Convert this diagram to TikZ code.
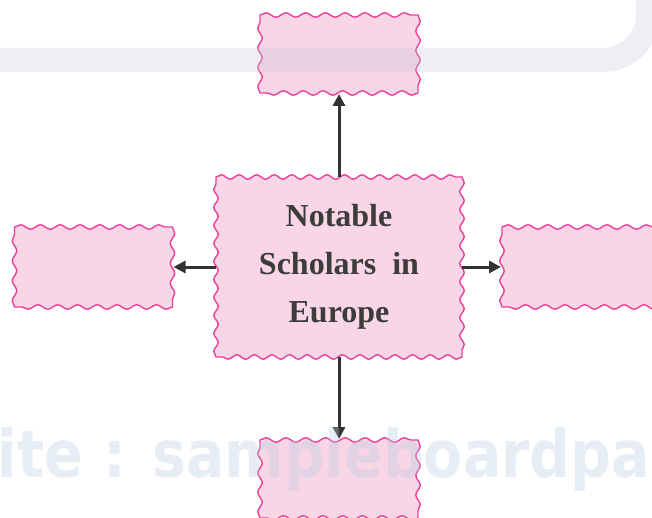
\documentclass[tikz,border=0pt]{standalone}
\usepackage{fontspec}
\setmainfont{Liberation Serif}
\newfontfamily\wmfont{DejaVu Sans}
\usetikzlibrary{decorations.pathmorphing,arrows.meta}
\definecolor{boxfill}{RGB}{249,214,230}
\definecolor{boxline}{RGB}{234,64,154}
\definecolor{arrowcol}{RGB}{51,51,51}
\definecolor{txtcol}{RGB}{60,60,60}
\definecolor{bandcol}{RGB}{200,200,220}
\definecolor{wmcol}{RGB}{184,206,226}
\tikzset{
  boxnode/.style={inner sep=0pt, outer sep=0pt},
  wavyline/.style={fill=boxfill, draw=boxline, line width=1.4pt, line join=round},
  conn/.style={arrowcol, line width=3pt, -{Triangle[length=12pt,width=12pt]}, shorten >=1pt}
}
% #1 node name, #2 horizontal segment length, #3 vertical segment length
\newcommand\wavyoutline[3]{%
  \path[wavyline] (#1.north west)
    decorate[decoration={snake,amplitude=2.2pt,segment length=#2}]{-- (#1.north east)}
    decorate[decoration={snake,amplitude=2.2pt,segment length=#3}]{-- (#1.south east)}
    decorate[decoration={snake,amplitude=2.2pt,segment length=#2}]{-- (#1.south west)}
    decorate[decoration={snake,amplitude=2.2pt,segment length=#3}]{-- (#1.north west)} -- cycle;}
\begin{document}
\begin{tikzpicture}[x=1pt,y=-1pt]
\useasboundingbox (0,0) rectangle (652,518);
\fill[white] (0,0) rectangle (652,518);
\node[boxnode, minimum width=246pt, minimum height=180pt] (c) at (339,267) {};
\node[boxnode, minimum width=158pt, minimum height=78pt] (t) at (339,54) {};
\node[boxnode, minimum width=158pt, minimum height=80pt] (l) at (93.5,267) {};
\node[boxnode, minimum width=158pt, minimum height=80pt] (r) at (581,267) {};
\node[boxnode, minimum width=158pt, minimum height=78pt] (b) at (339,479) {};
\wavyoutline{c}{17.57pt}{18pt}
\wavyoutline{t}{19.75pt}{19.5pt}
\wavyoutline{l}{19.75pt}{20pt}
\wavyoutline{r}{19.75pt}{20pt}
\wavyoutline{b}{19.75pt}{19.5pt}
\node[align=center, inner sep=0pt, font=\fontsize{32}{48}\selectfont\bfseries, text=txtcol] (ctext) at (c.center)
  {Notable\\Scholars\hspace{0.25em} in\\Europe};
\draw[conn] (c.north) -- (t.south);
\draw[conn] (c.west) -- (l.east);
\draw[conn] (c.east) -- (r.west);
\draw[conn] (c.south) -- (b.north);
% faint watermark overlay
\draw[bandcol, opacity=0.3, line width=24pt] (-20,60) -- (603,60) arc[start angle=90, end angle=0, radius=45] -- (648,-20);
\node[anchor=base east, inner sep=0pt, yscale=1.15, text=wmcol, opacity=0.35, font=\wmfont\fontsize{57}{57}\selectfont\bfseries] (wm) at (650,477) {Site : sampleboardpa};
\end{tikzpicture}
\end{document}
